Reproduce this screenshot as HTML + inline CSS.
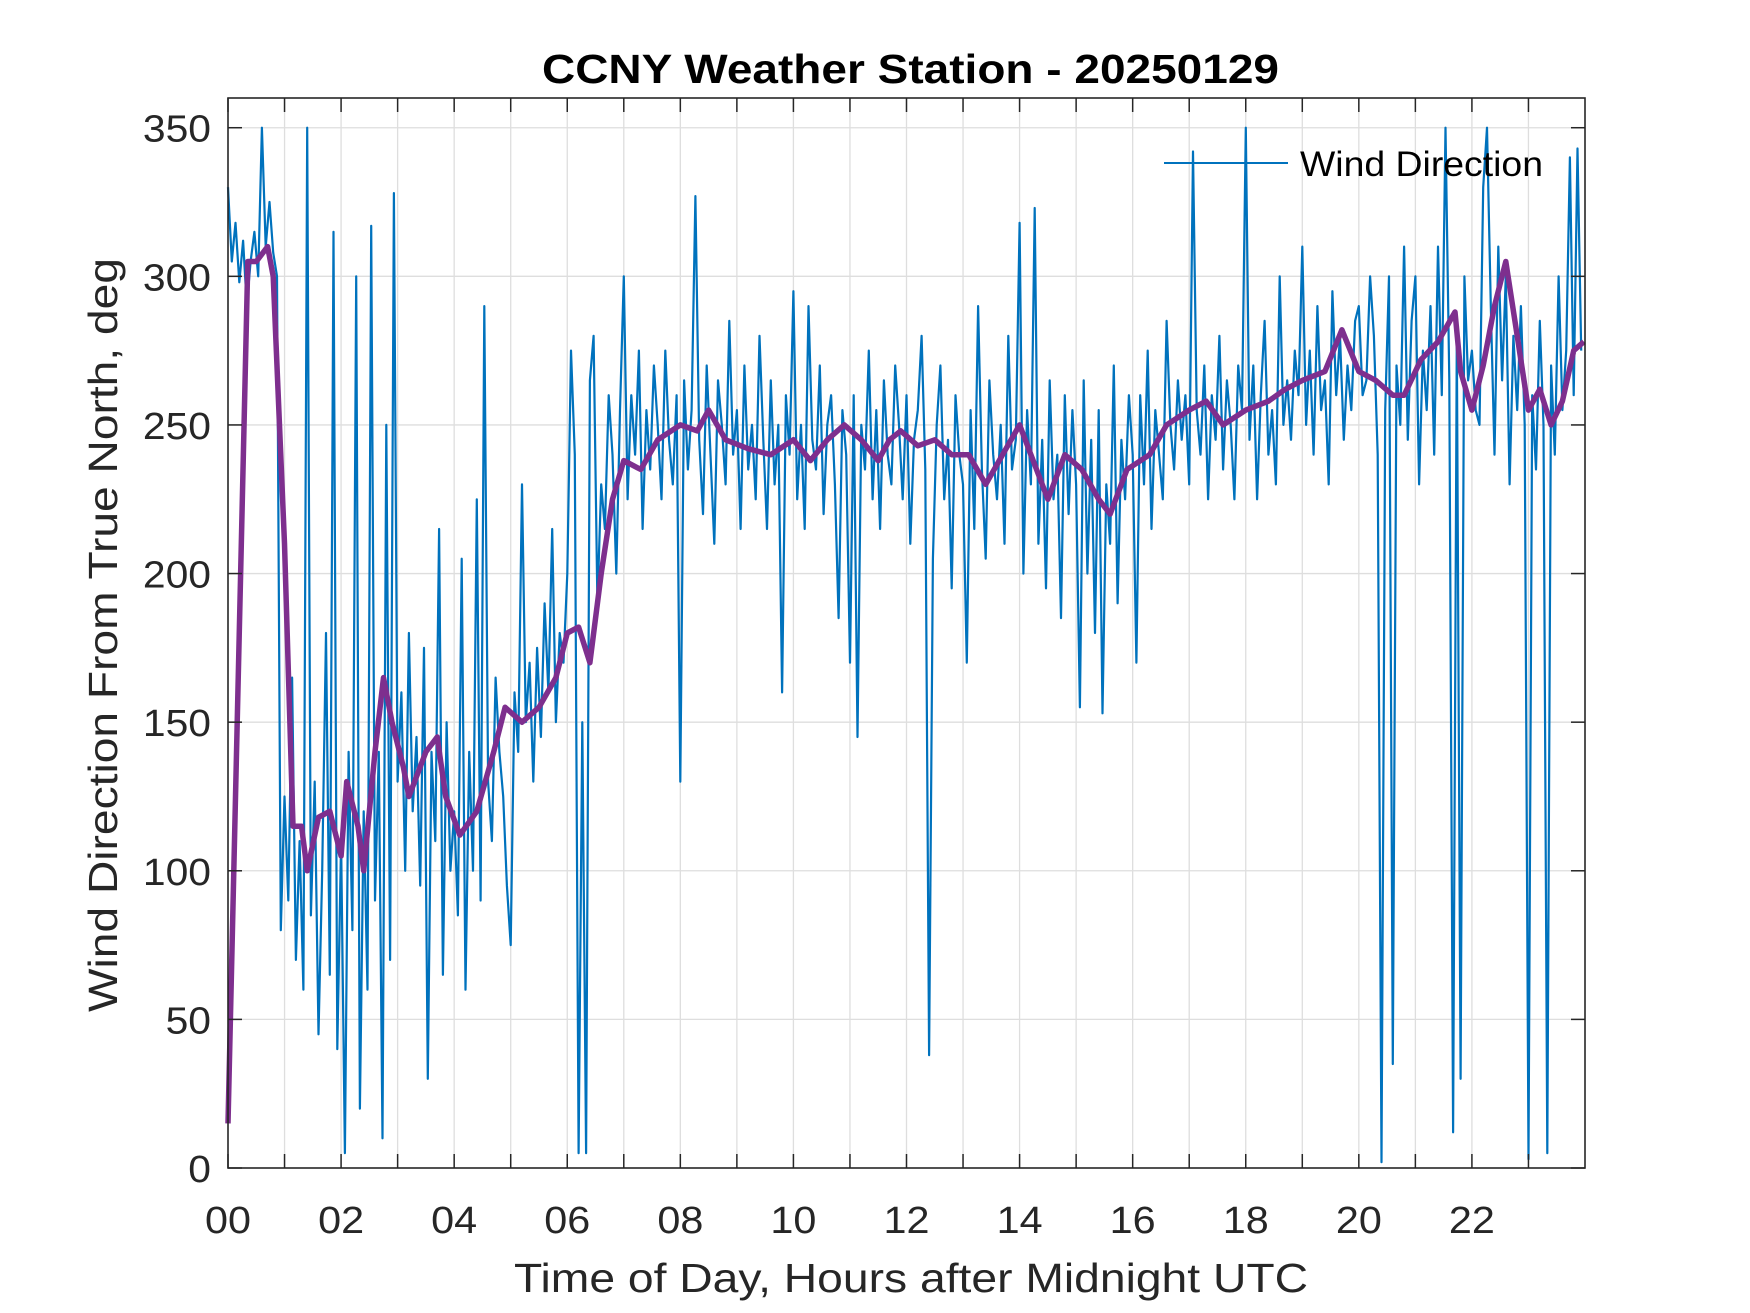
<!DOCTYPE html>
<html><head><meta charset="utf-8"><style>
html,body{margin:0;padding:0;background:#fff;}
svg{display:block;font-family:"Liberation Sans",Arial,sans-serif;}
</style></head><body>
<svg id="chart" width="1750" height="1313" viewBox="0 0 1750 1313" xmlns="http://www.w3.org/2000/svg">
<rect x="0" y="0" width="1750" height="1313" fill="#fff"/>
<g id="grid"></g>
<g id="series"></g>
<g id="axes"></g>
<text x="542" y="83" textLength="737" lengthAdjust="spacingAndGlyphs" font-size="41" font-weight="bold" fill="#000">CCNY Weather Station - 20250129</text>
<text x="514" y="1292" textLength="794" lengthAdjust="spacingAndGlyphs" font-size="41" fill="#262626">Time of Day, Hours after Midnight UTC</text>
<text transform="translate(117,1012) rotate(-90)" x="0" y="0" textLength="754" lengthAdjust="spacingAndGlyphs" font-size="41" fill="#262626">Wind Direction From True North, deg</text>
<g>
<line x1="1164" y1="163" x2="1288" y2="163" stroke="#0072BD" stroke-width="2"/>
<text x="1300" y="176" textLength="243" lengthAdjust="spacingAndGlyphs" font-size="35" fill="#000">Wind Direction</text>
</g>
</svg>
<script>
const hourTicks = [0,1,2,3,4,5,6,7,8,9,10,11,12,13,14,15,16,17,18,19,20,21,22,23];
const hourLabels = ["00","","02","","04","","06","","08","","10","","12","","14","","16","","18","","20","","22",""];
const yTicks = [0,50,100,150,200,250,300,350];
const windRaw = [
330,305,318,298,312,290,305,315,300,350,310,325,308,300,80,
125,90,165,70,110,60,350,85,130,45,100,180,65,315,40,
110,5,140,80,300,20,120,60,317,90,140,10,250,70,328,
130,160,100,180,120,145,95,175,30,140,110,215,65,150,100,
120,85,205,60,140,100,225,90,290,130,110,165,140,125,95,
75,160,140,230,150,170,130,175,145,190,160,215,150,180,170,
200,275,240,5,150,5,265,280,190,230,215,260,240,200,255,
300,225,260,240,275,215,255,235,270,250,225,275,245,230,260,
130,265,235,255,327,245,220,270,240,210,265,250,230,285,240,
255,215,270,235,250,225,280,245,215,265,230,250,160,260,240,
295,225,250,215,290,245,235,270,220,250,260,230,185,255,240,
170,260,145,250,235,275,225,255,215,265,240,230,270,250,225,
260,210,245,255,280,235,38,205,250,270,225,245,195,260,240,
230,170,255,215,290,235,205,265,240,225,250,210,280,235,245,
318,200,255,230,323,210,245,195,265,225,240,185,260,220,255,
230,155,265,200,245,180,255,153,230,210,270,190,245,225,260,
240,170,260,230,275,215,255,240,225,285,250,235,265,245,260,
230,342,255,240,270,225,260,245,280,235,265,250,225,270,255,
350,245,270,225,260,285,240,255,230,300,250,265,245,275,260,
310,250,275,240,290,255,265,230,295,260,280,245,270,255,285,
290,260,265,300,280,240,2,255,300,35,270,250,310,245,285,
300,230,275,255,290,240,310,260,350,265,12,280,30,300,265,
275,255,250,330,350,290,240,310,265,300,230,280,255,290,250,
3,260,235,285,250,5,270,240,300,255,275,340,260,343,275
];
const avgHours = [0,0.35,0.5,0.7,0.8,1.0,1.15,1.3,1.4,1.6,1.8,2.0,2.1,2.3,2.4,2.6,2.75,2.9,3.1,3.2,3.5,3.7,3.85,4.1,4.4,4.7,4.9,5.2,5.5,5.8,6.0,6.2,6.4,6.6,6.8,7.0,7.3,7.6,8.0,8.3,8.5,8.8,9.2,9.6,10.0,10.3,10.6,10.9,11.2,11.5,11.7,11.9,12.2,12.5,12.8,13.1,13.4,13.7,14.0,14.2,14.5,14.8,15.1,15.4,15.6,15.9,16.3,16.6,17.0,17.3,17.6,18.0,18.4,18.7,19.0,19.4,19.7,20.0,20.3,20.6,20.8,21.1,21.4,21.7,21.8,22.0,22.2,22.4,22.6,22.8,23.0,23.2,23.4,23.6,23.8,23.98];
const avgValues = [15,305,305,310,300,210,115,115,100,118,120,105,130,115,100,140,165,150,135,125,140,145,125,112,120,140,155,150,155,165,180,182,170,200,225,238,235,245,250,248,255,245,242,240,245,238,245,250,245,238,245,248,243,245,240,240,230,240,250,240,225,240,235,225,220,235,240,250,255,258,250,255,258,262,265,268,282,268,265,260,260,272,278,288,268,255,270,290,305,280,255,262,250,258,275,278];

const L=228,R=1585,T=98,B=1168,XMAX=24,YMAX=360;
const xs=h=>L+(h/XMAX)*(R-L);
const ys=v=>B-(v/YMAX)*(B-T);
const NS="http://www.w3.org/2000/svg";
function mk(tag,parent,attrs){const e=document.createElementNS(NS,tag);for(const k in attrs)e.setAttribute(k,attrs[k]);parent.appendChild(e);return e;}
const grid=document.getElementById('grid'),axes=document.getElementById('axes'),series=document.getElementById('series');

hourTicks.forEach((h,i)=>{
  const x=xs(h);
  if(h>0){const g=mk('line',grid,{x1:x,y1:T,x2:x,y2:B,stroke:'#dedede','stroke-width':1.3});
  
  }
  const t1=mk('line',axes,{x1:x,y1:B,x2:x,y2:B-14,stroke:'#262626','stroke-width':1.5});
  
  
  const t2=mk('line',axes,{x1:x,y1:T,x2:x,y2:T+14,stroke:'#262626','stroke-width':1.5});
  
  
  if(hourLabels[i]){const tx=mk('text',axes,{x:x-23,y:1233,textLength:46,lengthAdjust:'spacingAndGlyphs','font-size':38,fill:'#262626'});tx.textContent=hourLabels[i];
  
  }
});
yTicks.forEach(v=>{
  const y=ys(v);
  if(v>0){const g=mk('line',grid,{x1:L,y1:y,x2:R,y2:y,stroke:'#dedede','stroke-width':1.3});
  
  }
  const t1=mk('line',axes,{x1:L,y1:y,x2:L+14,y2:y,stroke:'#262626','stroke-width':1.5});
  
  
  const t2=mk('line',axes,{x1:R,y1:y,x2:R-14,y2:y,stroke:'#262626','stroke-width':1.5});
  
  
  const w=String(v).length*22.7;
  const tx=mk('text',axes,{x:211-w,y:y+14,textLength:w,lengthAdjust:'spacingAndGlyphs','font-size':38,fill:'#262626'});tx.textContent=v;
  
  
});
const box=mk('rect',axes,{x:L,y:T,width:R-L,height:B-T,fill:'none',stroke:'#262626','stroke-width':1.6});



const step=XMAX/windRaw.length;
const wp=windRaw.map((v,i)=>xs(i*step).toFixed(1)+','+ys(v).toFixed(1)).join(' ');
const wl=mk('polyline',series,{points:wp,fill:'none',stroke:'#0072BD','stroke-width':2.2,'stroke-linejoin':'round'});


const ap=avgHours.map((h,i)=>xs(h).toFixed(1)+','+ys(avgValues[i]).toFixed(1)).join(' ');
const al=mk('polyline',series,{points:ap,fill:'none',stroke:'#7E2F8E','stroke-width':5.5,'stroke-linejoin':'round'});


</script>
</body></html>
